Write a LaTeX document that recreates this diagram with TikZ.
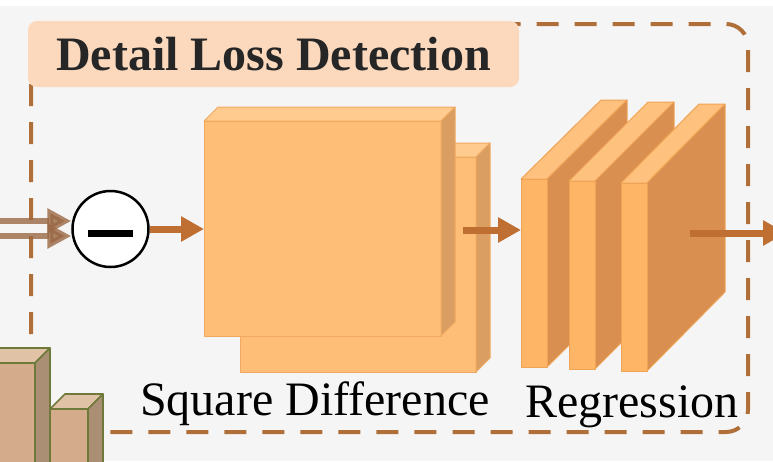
\documentclass[tikz,border=0pt]{standalone}
\usepackage{fontspec}
\setmainfont{Liberation Serif}
\usepackage{xcolor}
\usepackage{tikz}
\usetikzlibrary{calc,arrows.meta}

\definecolor{pagegray}{HTML}{F5F5F5}
\definecolor{framebrown}{HTML}{B06F38}
\definecolor{flowbrown}{HTML}{BF6F31}
\definecolor{inbrown}{HTML}{9A6844}
\definecolor{titlepeach}{HTML}{FCD9BD}
\definecolor{titleink}{HTML}{262626}
\definecolor{sqfront}{HTML}{FFBE78}
\definecolor{sqtop}{HTML}{FFCB8E}
\definecolor{sqside}{HTML}{DA9E62}
\definecolor{sqedge}{HTML}{F0A95F}
\definecolor{rgfront}{HTML}{FFB566}
\definecolor{rgtop}{HTML}{FFC27E}
\definecolor{rgside}{HTML}{D98F50}
\definecolor{rgedge}{HTML}{EFA356}
\definecolor{barfront}{HTML}{D4AC8C}
\definecolor{bartop}{HTML}{E0C3A7}
\definecolor{barside}{HTML}{AB8F75}
\definecolor{baredge}{HTML}{6F7A3A}

\tikzset{
  flow/.style={line width=7pt, draw=flowbrown, -{Triangle[length=23pt,width=24pt]}},
  inflow/.style={line width=6pt, draw=inbrown, opacity=0.8, -{Triangle[length=24pt,width=24pt]}},
  sqface/.style={draw=sqedge, line width=1pt, line join=round},
  rgface/.style={draw=rgedge, line width=1pt, line join=round},
  barface/.style={draw=baredge, line width=1.6pt, line join=round},
  label/.style={font=\fontsize{48}{50}\selectfont, inner sep=0pt, anchor=base west}
}

\begin{document}
\begin{tikzpicture}[x=1pt,y=-1pt]
						\useasboundingbox (0,0) rectangle (773,461);
						\clip (0,0) rectangle (773,461);

						\fill[white] (0,0) rectangle (773,461);
						\fill[pagegray] (0,6) rectangle (773,461);

						% dashed frame of the block
						\draw[framebrown, line width=4pt, dash pattern=on 22pt off 16pt, rounded corners=22pt] (31,24) rectangle (748,432);

						\node[fill=titlepeach, rounded corners=9pt, minimum width=491pt, minimum height=66pt, inner sep=0pt,
							font=\fontsize{48}{50}\bfseries\selectfont, text=titleink] (title) at (273.5,54) {Detail Loss Detection};

						% square difference maps
						\coordinate (SQ1) at (240,157);
						\coordinate (SQ2) at (476,372);
						\coordinate (SQ3) at (204,121);
						\coordinate (SQ4) at (441,336);

						\fill[sqface, fill=sqfront] (SQ1) rectangle (SQ2);
						\fill[sqface, fill=sqtop] (240,157) -- (254,143) -- (490,143) -- (476,157) -- cycle;
						\fill[sqface, fill=sqside] (476,157) -- (490,143) -- (490,358) -- (476,372) -- cycle;

						\fill[sqface, fill=sqfront] (SQ3) rectangle (SQ4);
						\fill[sqface, fill=sqtop] (204,121) -- (218,107) -- (455,107) -- (441,121) -- cycle;
						\fill[sqface, fill=sqside] (441,121) -- (455,107) -- (455,322) -- (441,336) -- cycle;

						% regression layers
						\fill[rgface, fill=rgtop] (521,179) -- (601,100) -- (627,100) -- (547,179) -- cycle;
						\fill[rgface, fill=rgside] (547,179) -- (627,100) -- (627,288) -- (547,367) -- cycle;
						\fill[rgface, fill=rgfront] (521,179) rectangle (547,367);

						\fill[rgface, fill=rgtop] (569,181) -- (648,102) -- (674,102) -- (595,181) -- cycle;
						\fill[rgface, fill=rgside] (595,181) -- (674,102) -- (674,290) -- (595,369) -- cycle;
						\fill[rgface, fill=rgfront] (569,181) rectangle (595,369);

						\fill[rgface, fill=rgtop] (621,183) -- (699,104) -- (725,104) -- (647,183) -- cycle;
						\fill[rgface, fill=rgside] (647,183) -- (725,104) -- (725,292) -- (647,371) -- cycle;
						\fill[rgface, fill=rgfront] (621,183) rectangle (647,371);

						\coordinate (RG1) at (521,230);
						\coordinate (RG3) at (690,233);
						\coordinate (OUT) at (786,233);

						% bars in the corner
						\fill[barface, fill=barfront] (50,409) rectangle (88,470);
						\fill[barface, fill=bartop] (50,409) -- (65,394) -- (103,394) -- (88,409) -- cycle;
						\fill[barface, fill=barside] (88,409) -- (103,394) -- (103,470) -- (88,470) -- cycle;

						\fill[barface, fill=barfront] (-20,363) rectangle (35,470);
						\fill[barface, fill=bartop] (-20,363) -- (-5,348) -- (50,348) -- (35,363) -- cycle;
						\fill[barface, fill=barside] (35,363) -- (50,348) -- (50,470) -- (35,470) -- cycle;

						% subtraction
						\node[circle, draw=black, line width=2.5pt, fill=white, minimum size=76pt, inner sep=0pt] (minus) at (110.5,229) {};
						\draw[line width=7pt] ($(minus.center)+(-22.5,4)$) -- ($(minus.center)+(22.5,4)$);

						\coordinate (IN1) at (-5,221);
						\coordinate (IN2) at (-5,236);
						\draw[inflow] (IN1) -- (IN1 -| minus.west);
						\draw[inflow] (IN2) -- (IN2 -| minus.west);

						\draw[flow] (minus.east) -- (minus.east -| SQ3);
						\draw[flow] (463,230) -- (RG1);
						\draw[flow] (RG3) -- (OUT);

						\node[label] (sqlabel) at (140,415) {Square Difference};
						\node[label] (rglabel) at (525,417) {Regression};
					\end{tikzpicture}
\end{document}
